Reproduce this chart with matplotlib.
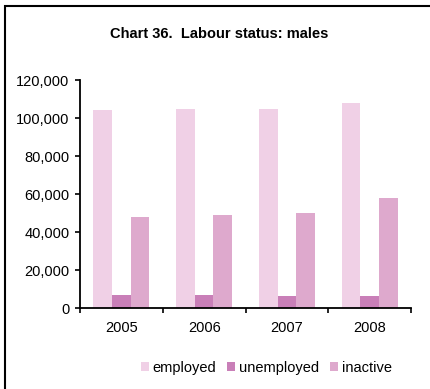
import matplotlib.pyplot as plt
import numpy as np
from matplotlib.patches import Rectangle

plt.rcParams['font.family'] = ['Liberation Sans', 'DejaVu Sans']

years = ['2005', '2006', '2007', '2008']
employed = [104000, 104500, 104600, 107700]
unemployed = [7000, 7000, 6400, 6400]
inactive = [47700, 48700, 50200, 58000]
series = ['employed', 'unemployed', 'inactive']
colors = ['#F0D0E6', '#C97FB8', '#DEA9CD']

fig = plt.figure(figsize=(4.3, 3.89), dpi=100)
ax = fig.add_axes([0.186, 0.2082, 0.770, 0.5861])

x = np.arange(len(years))
w = 0.225
for i, (vals, name) in enumerate(zip([employed, unemployed, inactive], series)):
    ax.bar(x + (i - 1) * w, vals, width=w, color=colors[i], label=name, zorder=2)

ax.set_xlim(-0.5, 3.5)
ax.set_ylim(0, 120000)
ax.set_yticks(np.arange(0, 120001, 20000))
ax.set_yticklabels([f'{v:,}' for v in range(0, 120001, 20000)])
ax.set_xticks(x)
ax.set_xticklabels(years)
ax.set_xticks(np.arange(-0.5, 3.6, 1), minor=True)
ax.tick_params(axis='x', which='major', length=0, pad=9.5, labelsize=10.5)
ax.tick_params(axis='x', which='minor', length=3.6, width=1.2, direction='out')
ax.tick_params(axis='y', length=3.6, width=1.2, direction='out', labelsize=10.5, pad=4)
for s in ['top', 'right']:
    ax.spines[s].set_visible(False)
for s in ['left', 'bottom']:
    ax.spines[s].set_linewidth(1.3)

fig.text(0.51, 0.9126, 'Chart 36.  Labour status: males', ha='center', va='center',
         fontsize=10.5, fontweight='bold')

fig.legend(loc='center', bbox_to_anchor=(0.62, 0.054), ncol=3, frameon=False,
           fontsize=10.5, handlelength=0.55, handleheight=0.55, handletextpad=0.27,
           columnspacing=0.75)

fig.patches.append(Rectangle((4.5 / 430, -0.1), 1.2, 1.1 - 6 / 389,
                             transform=fig.transFigure, fill=False,
                             edgecolor='black', linewidth=1.5))

fig.savefig('out.png', dpi=100)
